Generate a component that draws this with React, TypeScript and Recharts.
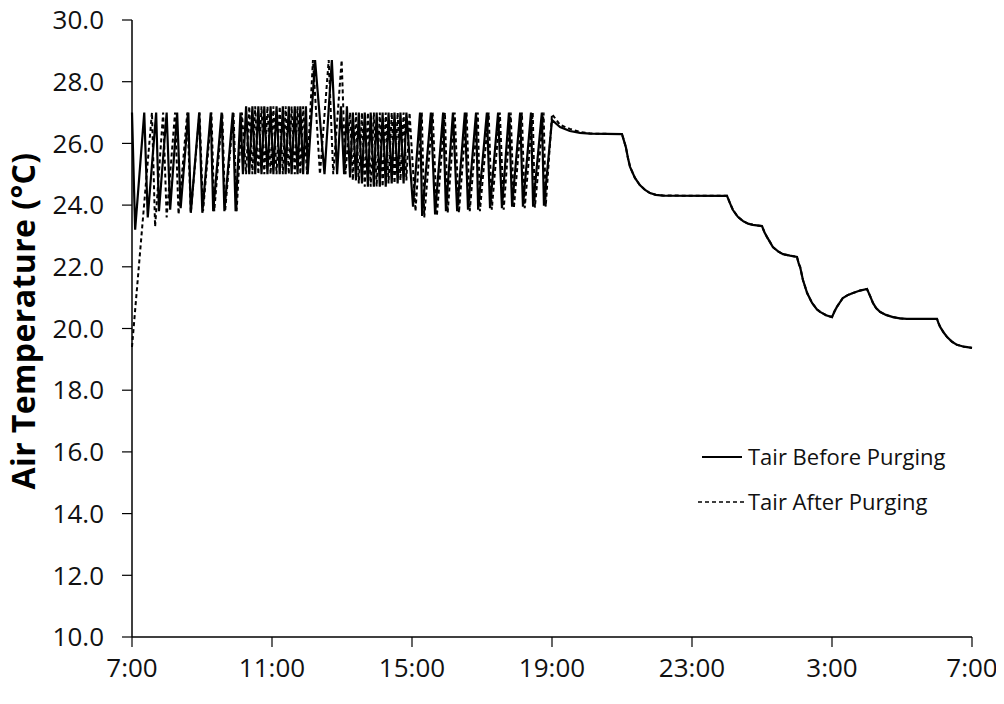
import React from "react";
import { LineChart, Line, XAxis, YAxis } from "recharts";

// hours after 7:00
const xTicks = [0, 4, 8, 12, 16, 20, 24];
const xTickLabels = ["7:00", "11:00", "15:00", "19:00", "23:00", "3:00", "7:00"];
const yTicks = [10, 12, 14, 16, 18, 20, 22, 24, 26, 28, 30];

const seriesNames = ["Tair Before Purging", "Tair After Purging"];

// daytime, before purging: [hour, °C]
const beforeDay: [number, number][] = [
  [0, 27.0], [0.09, 23.2], [0.35, 27.0], [0.45, 23.6], [0.69, 27.0], [0.77, 23.8],
  [0.99, 27.0], [1.09, 23.85], [1.29, 27.0], [1.39, 23.9], [1.61, 27.0], [1.68, 23.75],
  [1.92, 27.0], [2.01, 23.75], [2.25, 27.0], [2.32, 23.8], [2.56, 27.0], [2.64, 23.8],
  [2.88, 27.0], [2.96, 23.8], [3.1, 27.0], [3.17, 25.0], [3.26, 27.2], [3.35, 25.0],
  [3.44, 27.2], [3.52, 25.0], [3.61, 27.2], [3.7, 25.0], [3.78, 27.2], [3.87, 25.0],
  [3.96, 27.2], [4.04, 25.0], [4.13, 27.2], [4.22, 25.0], [4.31, 27.2], [4.39, 25.0],
  [4.48, 27.2], [4.56, 25.0], [4.65, 27.2], [4.73, 25.0], [4.81, 27.2], [4.89, 25.0],
  [4.97, 27.2], [5.02, 25.0], [5.23, 28.7], [5.5, 25.0], [5.71, 28.7], [5.86, 25.0],
  [5.97, 27.2], [6.06, 25.0], [6.14, 27.2], [6.23, 24.9], [6.31, 27.0], [6.4, 24.8],
  [6.48, 27.0], [6.57, 24.7], [6.65, 27.0], [6.74, 24.6], [6.82, 27.0], [6.91, 24.6],
  [6.99, 27.0], [7.08, 24.6], [7.16, 27.0], [7.25, 24.6], [7.33, 27.0], [7.42, 24.7],
  [7.5, 27.0], [7.59, 24.7], [7.67, 27.0], [7.76, 24.7], [7.84, 27.0], [8.03, 23.95],
  [8.23, 27.0], [8.29, 23.65], [8.54, 27.0], [8.66, 23.7], [8.89, 27.0], [8.97, 23.8],
  [9.17, 27.0], [9.29, 23.8], [9.51, 27.0], [9.6, 23.85], [9.83, 27.0], [9.89, 23.85],
  [10.14, 27.0], [10.23, 23.9], [10.46, 27.0], [10.57, 23.9], [10.77, 27.0], [10.86, 23.95],
  [11.09, 27.0], [11.17, 23.95], [11.4, 27.0], [11.46, 23.95], [11.71, 27.0], [11.77, 23.98],
  [12.0, 26.76], [12.23, 26.53], [12.51, 26.4], [12.8, 26.34],
];

// daytime, after purging: [hour, °C]
const afterDay: [number, number][] = [
  [0, 19.4], [0.57, 27.0], [0.66, 23.3], [0.89, 27.0], [0.99, 23.6], [1.23, 27.0],
  [1.33, 23.7], [1.58, 27.0], [1.68, 23.75], [1.93, 27.0], [2.03, 23.8], [2.27, 27.0],
  [2.35, 23.8], [2.58, 27.0], [2.66, 23.8], [2.9, 27.0], [2.99, 23.8], [3.14, 27.0],
  [3.26, 25.0], [3.35, 27.2], [3.44, 25.0], [3.52, 27.2], [3.61, 25.0], [3.7, 27.2],
  [3.78, 25.0], [3.87, 27.2], [3.96, 25.0], [4.04, 27.2], [4.13, 25.0], [4.22, 27.2],
  [4.31, 25.0], [4.39, 27.2], [4.48, 25.0], [4.56, 27.2], [4.65, 25.0], [4.73, 27.2],
  [4.81, 25.0], [4.89, 27.2], [5.0, 25.0], [5.17, 28.7], [5.37, 25.0], [5.62, 28.7],
  [5.75, 25.0], [5.99, 28.7], [6.1, 25.0], [6.23, 27.0], [6.31, 24.8], [6.4, 27.0],
  [6.48, 24.7], [6.57, 27.0], [6.65, 24.6], [6.74, 27.0], [6.82, 24.6], [6.91, 27.0],
  [6.99, 24.6], [7.08, 27.0], [7.16, 24.6], [7.25, 27.0], [7.33, 24.7], [7.42, 27.0],
  [7.5, 24.7], [7.59, 27.0], [7.67, 24.8], [7.76, 27.0], [7.84, 24.8], [7.93, 27.0],
  [8.1, 23.8], [8.28, 27.0], [8.35, 23.6], [8.59, 27.0], [8.71, 23.65], [8.94, 27.0],
  [9.02, 23.75], [9.22, 27.0], [9.34, 23.75], [9.56, 27.0], [9.65, 23.8], [9.88, 27.0],
  [9.94, 23.8], [10.19, 27.0], [10.28, 23.85], [10.51, 27.0], [10.62, 23.85], [10.82, 27.0],
  [10.91, 23.9], [11.14, 27.0], [11.22, 23.9], [11.45, 27.0], [11.51, 23.92], [11.76, 27.0],
  [11.82, 23.95], [12.0, 26.95], [12.23, 26.6], [12.51, 26.47], [12.8, 26.37],
];

// evening & night, both series coincide: [hour, °C]
const nightBoth: [number, number][] = [
  [13.09, 26.32], [14.0, 26.3], [14.11, 25.88], [14.17, 25.53], [14.23, 25.24],
  [14.37, 24.88], [14.51, 24.65], [14.66, 24.49], [14.8, 24.39], [14.97, 24.33],
  [15.17, 24.31], [17.0, 24.3], [17.09, 24.05], [17.17, 23.84], [17.31, 23.62],
  [17.46, 23.48], [17.6, 23.4], [17.74, 23.36], [18.0, 23.32], [18.07, 23.12],
  [18.14, 22.97], [18.23, 22.8], [18.31, 22.64], [18.46, 22.5], [18.6, 22.41],
  [18.8, 22.36], [19.0, 22.32], [19.05, 22.1], [19.09, 21.99], [19.17, 21.57],
  [19.29, 21.15], [19.43, 20.83], [19.57, 20.62], [19.66, 20.54], [19.83, 20.43],
  [20.0, 20.37], [20.07, 20.55], [20.14, 20.7], [20.31, 20.99], [20.46, 21.09],
  [20.6, 21.15], [20.8, 21.23], [21.0, 21.28], [21.09, 21.05], [21.17, 20.83],
  [21.26, 20.66], [21.37, 20.54], [21.54, 20.44], [21.74, 20.37], [21.94, 20.33],
  [22.14, 20.31], [23.0, 20.31], [23.04, 20.18], [23.09, 20.05], [23.19, 19.87],
  [23.29, 19.72], [23.43, 19.57], [23.57, 19.47], [23.77, 19.41], [24.0, 19.37],
];

const toRows = (pts: [number, number][]) => pts.map(([t, v]) => ({ t, v }));
const beforeData = toRows([...beforeDay, ...nightBoth]);
const afterData = toRows([...afterDay, ...nightBoth]);

const FONT = "'Open Sans', 'DejaVu Sans', sans-serif";

const YLabel = () => (
  <text
    x={22}
    y={321}
    transform="rotate(-90 22 321)"
    textAnchor="middle"
    dominantBaseline="central"
    fontFamily={FONT}
    fontWeight={700}
    fontSize={32}
    letterSpacing={0.4}
    fill="#000"
  >
    Air Temperature (°C)
  </text>
);

export default function App() {
  return (
    <div
      style={{
        position: "relative",
        width: 1004,
        height: 704,
        marginTop: -8,
        marginLeft: -8,
        background: "#fff",
      }}
    >
      <LineChart
        width={1004}
        height={704}
        margin={{ top: 20, right: 32, bottom: 8, left: 0 }}
      >
        <XAxis
          dataKey="t"
          type="number"
          domain={[0, 24]}
          ticks={xTicks}
          allowDuplicatedCategory={false}
          tickFormatter={(v: number) => xTickLabels[xTicks.indexOf(v)] ?? ""}
          height={59}
          tickSize={10}
          tickMargin={12}
          axisLine={{ stroke: "#000", strokeWidth: 1.5 }}
          tickLine={{ stroke: "#000", strokeWidth: 1.2 }}
          tick={{ fill: "#111", fontSize: 26, fontFamily: FONT }}
          interval={0}
        />
        <YAxis
          type="number"
          domain={[10, 30]}
          ticks={yTicks}
          tickFormatter={(v: number) => v.toFixed(1)}
          width={132}
          tickSize={10}
          tickMargin={18}
          axisLine={{ stroke: "#000", strokeWidth: 1.5 }}
          tickLine={{ stroke: "#000", strokeWidth: 1.2 }}
          tick={{ fill: "#111", fontSize: 26, fontFamily: FONT }}
          interval={0}
          label={{ content: () => <YLabel /> }}
        />
        <Line
          data={afterData}
          dataKey="v"
          name={seriesNames[1]}
          type="linear"
          stroke="#000"
          strokeWidth={2}
          strokeDasharray="4 3"
          dot={false}
          isAnimationActive={false}
        />
        <Line
          data={beforeData}
          dataKey="v"
          name={seriesNames[0]}
          type="linear"
          stroke="#000"
          strokeWidth={2.2}
          dot={false}
          isAnimationActive={false}
        />
      </LineChart>
      <div
        style={{
          position: "absolute",
          left: 698,
          top: 434,
          fontFamily: FONT,
          fontSize: 22,
          color: "#111",
          lineHeight: "45px",
        }}
      >
        {seriesNames.map((n, i) => (
          <div key={n} style={{ display: "flex", alignItems: "center", height: 45 }}>
            <svg width={50} height={10}>
              <line
                x1={i === 0 ? 4 : 0}
                y1={5}
                x2={i === 0 ? 44 : 46}
                y2={5}
                stroke="#000"
                strokeWidth={i === 0 ? 2 : 1.5}
                strokeDasharray={i === 0 ? undefined : "4 3"}
              />
            </svg>
            <span>{n}</span>
          </div>
        ))}
      </div>
    </div>
  );
}
